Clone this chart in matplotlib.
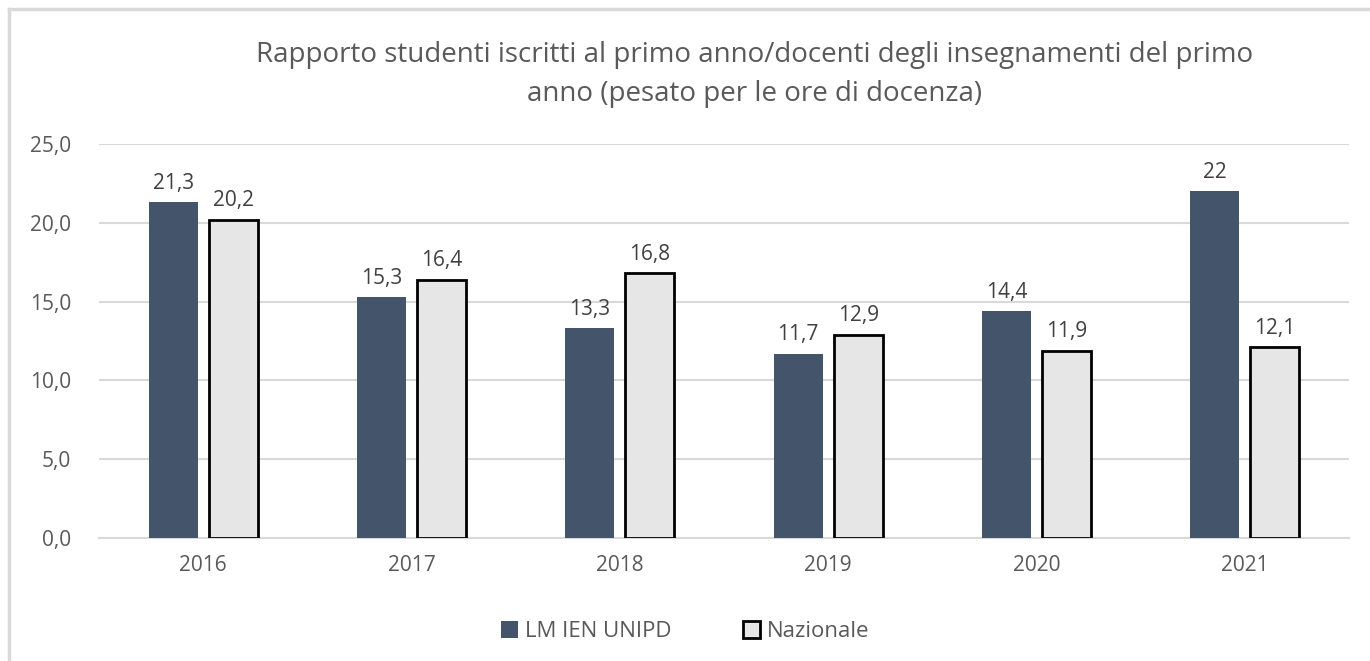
import matplotlib.pyplot as plt
from matplotlib.lines import Line2D
import numpy as np

plt.rcParams['font.family'] = ['Open Sans', 'DejaVu Sans']

years = ['2016', '2017', '2018', '2019', '2020', '2021']
unipd = [21.3, 15.3, 13.3, 11.7, 14.4, 22]
nazionale = [20.2, 16.4, 16.8, 12.9, 11.9, 12.1]
unipd_labels = ['21,3', '15,3', '13,3', '11,7', '14,4', '22']
naz_labels = ['20,2', '16,4', '16,8', '12,9', '11,9', '12,1']
yticks = [0, 5, 10, 15, 20, 25]
ytick_labels = ['0,0', '5,0', '10,0', '15,0', '20,0', '25,0']

txt = '#595959'
fig = plt.figure(figsize=(13.7, 6.61), dpi=100)
ax = fig.add_axes([0.0723, 0.186, 0.9124, 0.596])

x = np.arange(len(years))
w = 0.236
off = 0.144
b1 = ax.bar(x - off, unipd, w, color='#44546A', zorder=3)
b2 = ax.bar(x + off, nazionale, w, color='#E7E6E6', edgecolor='black', linewidth=2, zorder=3)

for r, lab in zip(b1, unipd_labels):
    ax.annotate(lab, (r.get_x() + r.get_width() / 2, r.get_height()), xytext=(0, 6),
                textcoords='offset points', ha='center', va='bottom', fontsize=15, color='#404040')
for r, lab in zip(b2, naz_labels):
    ax.annotate(lab, (r.get_x() + r.get_width() / 2, r.get_height()), xytext=(0, 6),
                textcoords='offset points', ha='center', va='bottom', fontsize=15, color='#404040')

ax.set_xlim(-0.5, len(years) - 0.5)
ax.set_ylim(0, 25)
ax.set_yticks(yticks)
ax.set_yticklabels(ytick_labels)
ax.set_xticks(x)
ax.set_xticklabels(years)
ax.tick_params(axis='both', length=0, labelsize=15, labelcolor=txt)
ax.tick_params(axis='x', pad=12)
ax.tick_params(axis='y', pad=20)
ax.grid(axis='y', color='#D9D9D9', linewidth=1.5, zorder=0)
for s in ['top', 'right', 'left']:
    ax.spines[s].set_visible(False)
ax.spines['bottom'].set_color('#D9D9D9')
ax.spines['bottom'].set_linewidth(1.5)

fig.text(0.551, 0.887, 'Rapporto studenti iscritti al primo anno/docenti degli insegnamenti del primo\nanno (pesato per le ore di docenza)',
         ha='center', va='center', fontsize=20, color=txt, linespacing=1.5)

handles = [
    plt.Rectangle((0, 0), 1, 1, facecolor='#44546A'),
    plt.Rectangle((0, 0), 1, 1, facecolor='#E7E6E6', edgecolor='black', linewidth=2),
]
fig.legend(handles, ['LM IEN UNIPD', 'Nazionale'], loc='center', bbox_to_anchor=(0.5, 0.045),
           ncol=2, frameon=False, fontsize=16, labelcolor=txt, handlelength=0.8, handleheight=0.8,
           handletextpad=0.3, columnspacing=3.2)

# outer chart border (left and top visible)
fig.add_artist(Line2D([9 / 1370, 9 / 1370], [0, 1 - 9 / 661], color='#D9D9D9', linewidth=2.5))
fig.add_artist(Line2D([9 / 1370, 1], [1 - 9 / 661, 1 - 9 / 661], color='#D9D9D9', linewidth=2.5))

fig.savefig('out.png', dpi=100)
